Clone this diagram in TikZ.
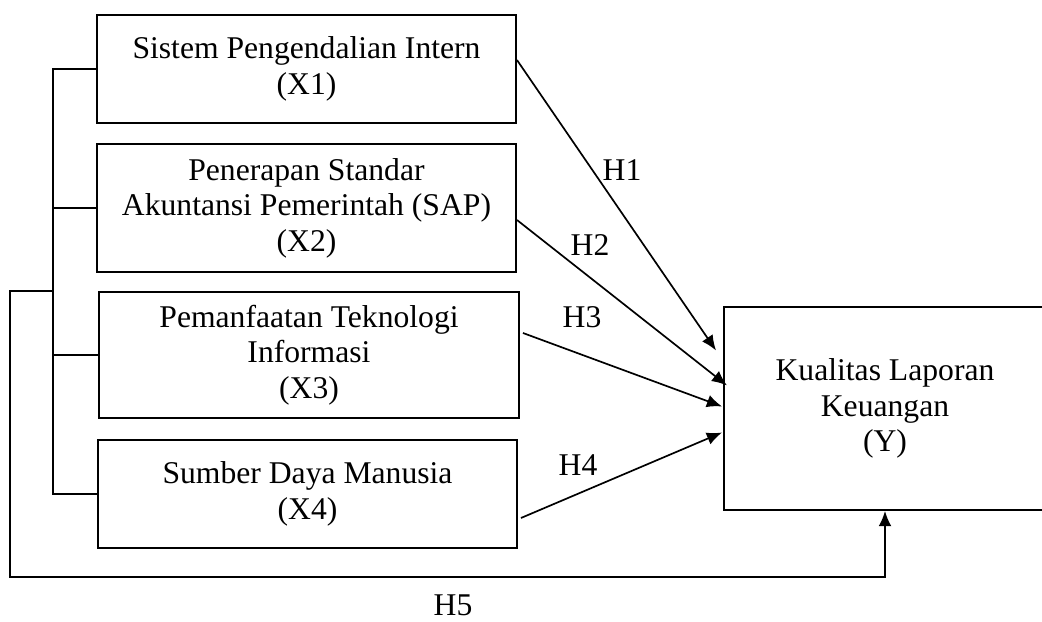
\documentclass[tikz,border=0pt]{standalone}
\usepackage{fontspec}
\setmainfont{Liberation Serif}
\usepackage{tikz}
\usetikzlibrary{
  arrows.meta,
  calc,
  positioning
}
\tikzset{>={Latex[length=0.38cm, width=0.32cm]}}
\tikzset{font=\fontsize{22.5}{25.3}\selectfont}
\tikzset{var/.style={draw, line width=1.3pt, align=center, inner sep=0pt}}
\tikzset{link/.style={line width=1.2pt}}

\begin{document}
\begin{tikzpicture}[x=0.025cm, y=-0.025cm]
  \useasboundingbox (0,0) rectangle (1042,622);
  % independent variables
  \node[var, minimum width=10.475cm, minimum height=2.7cm] (x1) at (306.5,69)
  {Sistem Pengendalian Intern\\(X1)};
  \node[var, minimum width=10.475cm, minimum height=3.2cm] (x2) at (306.5,208)
  {Penerapan Standar\\Akuntansi Pemerintah (SAP)\\(X2)};
  \node[var, minimum width=10.5cm, minimum height=3.15cm] (x3) at (309,355)
  {Pemanfaatan Teknologi\\Informasi\\(X3)};
  \node[var, minimum width=10.475cm, minimum height=2.7cm] (x4) at (307.5,494)
  {Sumber Daya Manusia\\(X4)};
  % dependent variable
  \node[var, minimum width=8.05cm, minimum height=5.075cm] (y) at (885,408.5)
  {Kualitas Laporan\\Keuangan\\(Y)};
  % bracket on the left
  \coordinate (brk) at (53,0);
  \draw[link] (x1.west) -- (x1.west -| brk) -- (x4.west -| brk) -- (x4.west);
  \draw[link] (x2.west) -- (x2.west -| brk);
  \draw[link] (x3.west) -- (x3.west -| brk);
  % partial effects
  \draw[link, ->] ($(x1.east)+(0,-9)$) -- ($(y.west)+(-7,-58)$);
  \draw[link, ->] ($(x2.east)+(0,12)$) -- ($(y.west)+(4,-23)$);
  \draw[link, ->] ($(x3.east)+(3,-22)$) -- ($(y.west)+(-1,-2)$);
  \draw[link, ->] ($(x4.east)+(3,24)$) -- ($(y.west)+(-1,24)$);
  \node (h1) at (622,170) {H1};
  \node (h2) at (590,245) {H2};
  \node (h3) at (582,317) {H3};
  \node (h4) at (578,465) {H4};
  % joint effect
  \coordinate (fb) at (10,291);
  \coordinate (bend) at (10,577);
  \draw[link, ->] (fb -| brk) -- (fb) -- (bend) -| (y.south);
  \node (h5) at (453,605) {H5};
\end{tikzpicture}
\end{document}
